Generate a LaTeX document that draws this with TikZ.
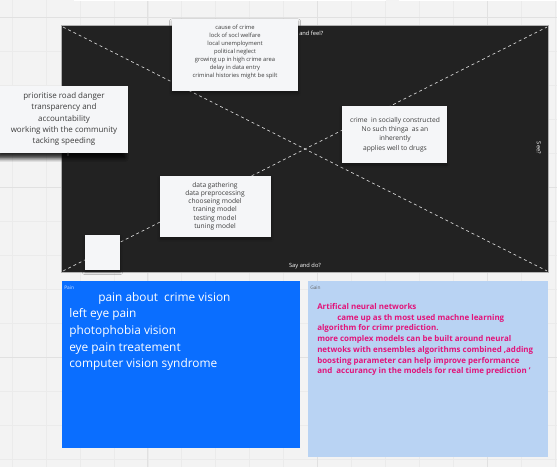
\documentclass[tikz,border=0pt]{standalone}
\usepackage{fontspec}
\setmainfont{Open Sans}
\usetikzlibrary{shadows.blur}

\definecolor{boardbg}{RGB}{243,243,243}
\definecolor{gridminor}{RGB}{235,235,235}
\definecolor{gridmajor}{RGB}{225,225,225}
\definecolor{framedark}{RGB}{34,34,34}
\definecolor{notefill}{RGB}{245,246,248}
\definecolor{notegray}{RGB}{60,60,60}
\definecolor{painblue}{RGB}{10,110,255}
\definecolor{gainblue}{RGB}{185,211,243}
\definecolor{gainpink}{RGB}{226,20,122}

\tikzset{
  note/.style={fill=notefill, blur shadow={shadow xshift=0pt, shadow yshift=-1.5pt, shadow blur radius=2pt, shadow opacity=35}},
  notetxt/.style={text=notegray, align=center, inner sep=0pt},
  diag/.style={draw=white!85!black, line width=0.5pt, dash pattern=on 2.2pt off 2.2pt},
  boardtxt/.style={text=white, inner sep=0pt, font=\fontsize{4.3}{5}\selectfont},
  paintxt/.style={text=white, inner sep=0pt, anchor=base west, font=\fontsize{8.9}{10}\selectfont},
  gaintxt/.style={text=gainpink, inner sep=0pt, anchor=base west, font=\bfseries\fontsize{5.95}{7}\selectfont}
}

\begin{document}
\begin{tikzpicture}[x=0.75pt,y=0.75pt,yscale=-1,xscale=1]
    \useasboundingbox (0,0) rectangle (557,467);
    %Board background
    \fill[boardbg] (0,0) rectangle (557,467);
    \foreach \i in {0,...,16} {
        \draw[gridminor, line width=0.4pt] ({12+33.95*\i},0) -- ({12+33.95*\i},467);
    }
    \foreach \j in {0,...,13} {
        \draw[gridminor, line width=0.4pt] (0,{17+34*\j}) -- (557,{17+34*\j});
    }
    \foreach \v in {147.8,317.5,487.3} {
        \draw[gridmajor, line width=0.5pt] (\v,0) -- (\v,467);
    }
    \foreach \h in {17,187,357} {
        \draw[gridmajor, line width=0.5pt] (0,\h) -- (557,\h);
    }
    \fill[white] (74,0) rectangle (386,1.5);
    \fill[white] (399,0) rectangle (557,1.5);

    %Empathy frame
    \draw[fill=framedark, draw=gray!60, line width=0.4pt] (61,25) rectangle (548,272.5);
    \coordinate (tl) at (63,27);
    \coordinate (tr) at (547,27);
    \coordinate (bl) at (63,271);
    \coordinate (br) at (547,271);
    \draw[diag] (tl) -- (br);
    \draw[diag] (bl) -- (tr);
    \node[boardtxt, anchor=west] (feel) at (299,33) {and feel?};
    \node[boardtxt] (saydo) at (305,266) {Say and do?};
    \node[boardtxt, rotate=-90] (see) at (539,148) {See?};

    %Sticky: causes
    \path[note] (172,19.5) rectangle (298,91.5);
    \node[notetxt, font=\fontsize{4.35}{6.1}\selectfont] (causes) at (235,52) {cause of crime\\lock of socl welfare\\local unemployment\\political neglect\\growing up in high crime area\\delay in data entry\\criminal histories might be spilt};

    %Sticky: priorities
    \path[note, blur shadow={shadow xshift=-2pt, shadow yshift=-4pt, shadow blur radius=3pt, shadow opacity=60}] (0,86) rectangle (127.5,152.5);
    \node[notetxt, font=\fontsize{6}{8.4}\selectfont] (priorities) at (64,119) {prioritise road danger\\transparency and\\accountability\\working with the community\\tacking speeding};
    \node[text=gray, inner sep=0pt, font=\fontsize{4}{4}\selectfont] (cursor) at (68,154.5) {I};

    %Sticky: social construct
    \path[note] (342,106) rectangle (447,163);
    \node[notetxt, font=\fontsize{5}{7}\selectfont] (social) at (395,134.5) {crime\ \ in socially constructed\\No such thinga\ \ as an\\inherently\\applies well to drugs};

    %Sticky: modelling steps
    \path[note] (160,176) rectangle (271,237);
    \node[notetxt, font=\fontsize{5}{6.15}\selectfont] (steps) at (215,206) {data gathering\\data preprocessing\\chooseing model\\traning model\\testing model\\tuning model};

    %Sticky: empty
    \path[note] (85,235) rectangle (120,270);

    %Pain panel
    \fill[painblue] (62,281) rectangle (300,448);
    \node[text=white!85!painblue, inner sep=0pt, anchor=west, font=\fontsize{3.6}{4}\selectfont] (painlbl) at (64,287.5) {Pain};
    \node[paintxt] (paintitle) at (98,301) {pain about\ \ crime vision};
    \foreach \t [count=\i] in {left eye pain, photophobia vision, eye pain treatement, computer vision syndrome} {
        \node[paintxt] (pain\i) at (69,{317.5+16.75*(\i-1)}) {\t};
    }

    %Gain panel
    \fill[gainblue] (308,281) rectangle (548,457);
    \node[text=gray!80!black, inner sep=0pt, anchor=west, font=\fontsize{3.6}{4}\selectfont] (gainlbl) at (310,288) {Gain};
    \node[gaintxt] (gain1) at (317,309) {Artifical neural networks};
    \node[gaintxt] (gain2) at (337,320) {came up as th most used machne learning};
    \foreach \t [count=\i from 3] in {algorithm for crimr prediction., more complex models can be built around neural, {netwoks with ensembles algorithms combined ,adding}, boosting parameter can help improve performance, and\ \ accurancy in the models for real time prediction '} {
        \node[gaintxt] (gain\i) at (317,{309+10.8*(\i-1)}) {\t};
    }
\end{tikzpicture}
\end{document}
